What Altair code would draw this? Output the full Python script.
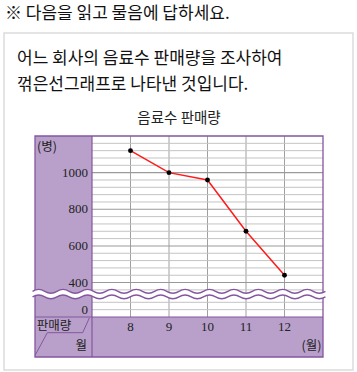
import altair as alt
import pandas as pd

# ---- data ----
months = [8, 9, 10, 11, 12]
sales = [1120, 1000, 960, 680, 440]
y_tick_labels = [0, 400, 600, 800, 1000]
header = "※ 다음을 읽고 물음에 답하세요."
body1 = "어느 회사의 음료수 판매량을 조사하여"
body2 = "꺾은선그래프로 나타낸 것입니다."
title = "음료수 판매량"

df = pd.DataFrame({"month": months, "sales": sales})

W, H = 231, 181
PURPLE = "#b9a0cb"
PURPLE_D = "#84569f"
KR = "Noto Sans CJK KR"
SERIF = "Liberation Serif"

# gridline positions (every 40 bottles; darker every 200)
minor_vals = [0, 40] + [v for v in range(360, 1200, 40) if v % 200 != 0]
major_vals = [v for v in range(400, 1200, 200)]

XS = alt.Scale(domain=[7, 13], nice=False, zero=False)
YS = alt.Scale(domain=[-40, 40, 360, 1200], range=[H, 166.3, 153.9, 0])

one = alt.Chart(pd.DataFrame({"k": [0]}))

def txt(s, x, y, size=13, align="left", font=KR, color="#222"):
    return one.mark_text(text=s, align=align, baseline="middle", font=font,
                         fontSize=size, color=color).encode(
        x=alt.value(x), y=alt.value(y))

def rule(x1, y1, x2, y2, color=PURPLE_D, w=1.2):
    return one.mark_rule(color=color, strokeWidth=w).encode(
        x=alt.value(x1), x2=alt.value(x2), y=alt.value(y1), y2=alt.value(y2))

def box(x1, y1, x2, y2, **kw):
    return one.mark_rect(**kw).encode(
        x=alt.value(x1), x2=alt.value(x2), y=alt.value(y1), y2=alt.value(y2))

# wave symbol path (decoration for the broken axis)
n_half = 24
x0, x1 = -1.01, 1.01
h = (x1 - x0) / n_half
amp = 1.9 / 145.0
parts = [f"M{x0:.4f},0"]
for i in range(n_half):
    xs = x0 + i * h
    cy = -2 * amp if i % 2 == 0 else 2 * amp
    parts.append(f"Q{xs + h/2:.4f},{cy:.4f} {xs + h:.4f},0")
wave_path = " ".join(parts)
WAVE_SIZE = 290.0 ** 2

def wave(y, color, w):
    return one.mark_point(shape=wave_path, size=WAVE_SIZE, filled=False,
                          stroke=color, strokeWidth=w, opacity=1).encode(
        x=alt.value(87), y=alt.value(y))

outer = box(-88, -103, 261, 234, filled=False, stroke="#dcdcdc", strokeWidth=1.5)
left_panel = box(-57, 0, 0, H, color=PURPLE)
bottom_band = box(-57, H, W, 221, color=PURPLE)
frame = box(-57, 0, W, 221, filled=False, stroke=PURPLE_D, strokeWidth=1.3)

vgrid = alt.Chart(pd.DataFrame({"m": months})).mark_rule(
    color="#a0a0a0", strokeWidth=1).encode(
    x=alt.X("m:Q", scale=XS, axis=None))
hgrid_minor = alt.Chart(pd.DataFrame({"v": minor_vals})).mark_rule(
    color="#c4c4c4", strokeWidth=1).encode(
    y=alt.Y("v:Q", scale=YS, axis=None))
hgrid_major = alt.Chart(pd.DataFrame({"v": major_vals})).mark_rule(
    color="#9a9a9a", strokeWidth=1.1).encode(
    y=alt.Y("v:Q", scale=YS, axis=None))

line = alt.Chart(df).mark_line(color="#ff1a1a", strokeWidth=1.5).encode(
    x=alt.X("month:Q", scale=XS, axis=None),
    y=alt.Y("sales:Q", scale=YS, axis=None),
)
points = alt.Chart(df).mark_circle(color="#000", size=24, opacity=1).encode(
    x=alt.X("month:Q", scale=XS, axis=None),
    y=alt.Y("sales:Q", scale=YS, axis=None))

ylabels = alt.Chart(pd.DataFrame({"v": y_tick_labels})).mark_text(
    align="right", baseline="middle", font=SERIF, fontSize=13, color="#222").encode(
    y=alt.Y("v:Q", scale=YS, axis=None), x=alt.value(-4),
    text=alt.Text("v:Q", format="d"))
xlabels = alt.Chart(pd.DataFrame({"m": months})).mark_text(
    align="center", baseline="middle", font=SERIF, fontSize=13, color="#222").encode(
    x=alt.X("m:Q", scale=XS, axis=None), y=alt.value(191),
    text=alt.Text("m:Q", format="d"))

layers = [
    outer,
    txt(header, -87, -122.5, size=17, color="#111"),
    txt(body1, -75, -77.5, size=17, color="#111"),
    txt(body2, -75, -51, size=17, color="#111"),
    txt(title, 87, -17.5, size=14.5, align="center", color="#222"),
    left_panel, bottom_band,
    vgrid, hgrid_minor, hgrid_major,
    line, points,
    frame,
    rule(0, 0, 0, 221),
    rule(-57, H, W, H),
    rule(-2.7, 182, -9.3, 196.7, w=1),
    rule(-9.3, 196.7, -44.7, 196.7, w=1),
    rule(-44.7, 196.7, -57, 219.5, w=1),
    wave(158.1, "white", 5.4),
    wave(155.3, PURPLE_D, 1.4),
    wave(160.9, PURPLE_D, 1.4),
    ylabels, xlabels,
    txt("(병)", -55, 11, size=12.5),
    txt("판매량", -38, 190, size=12.5, align="center"),
    txt("월", -5, 209.5, size=12.5, align="right"),
    txt("(월)", 229.5, 209.5, size=12.5, align="right"),
]

chart = alt.layer(*layers).properties(
    width=W, height=H,
    padding={"left": 92, "top": 136, "right": 34, "bottom": 55},
    autosize=alt.AutoSizeParams(type="none"),
    background="white",
).configure_view(strokeWidth=0)

chart.save("out.html", embed_options={"renderer": "svg", "actions": False})
